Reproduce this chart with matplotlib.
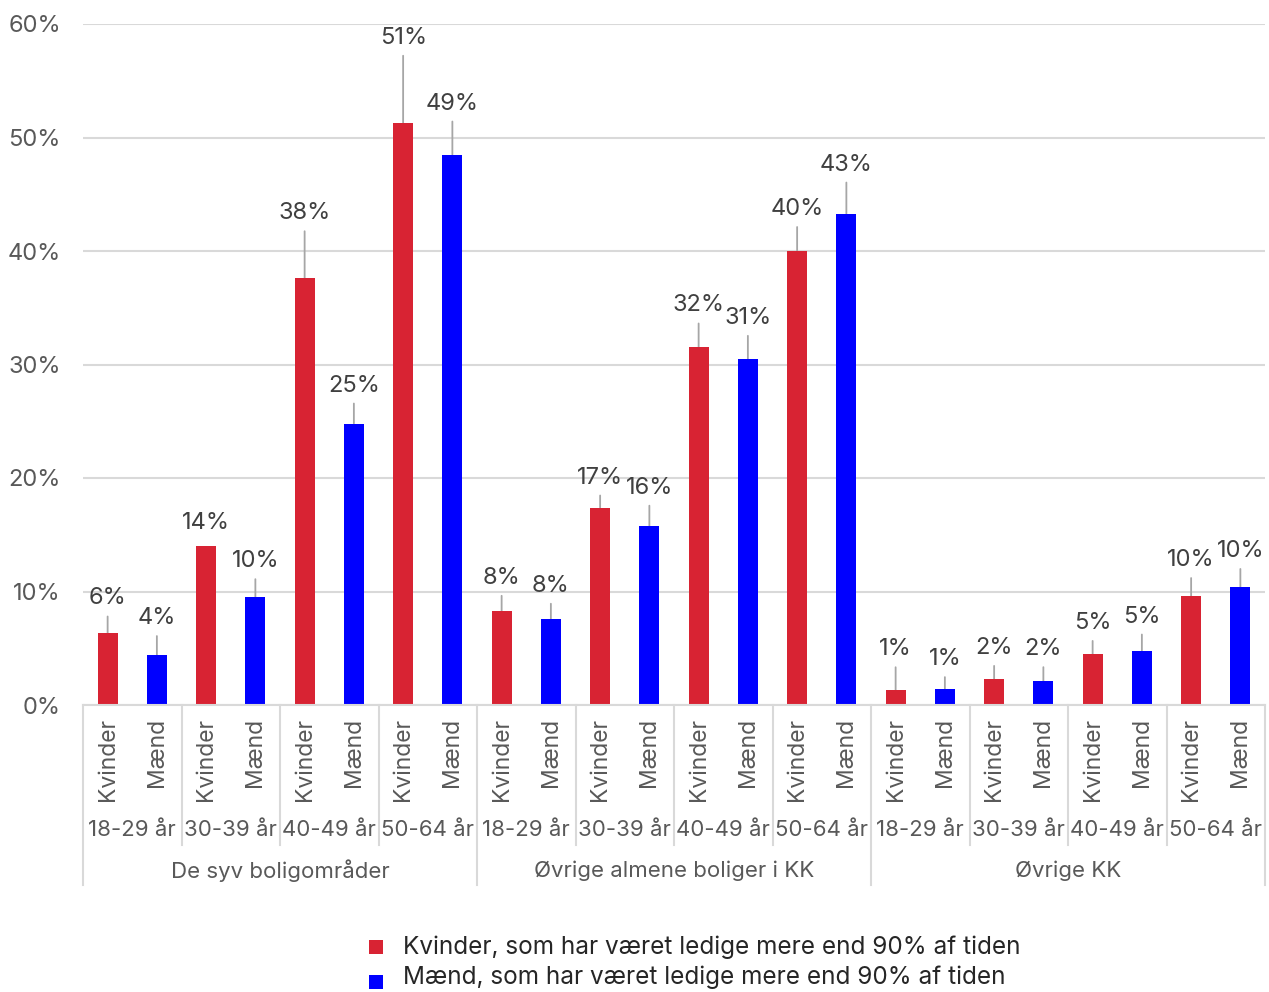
import matplotlib
matplotlib.use("Agg")
import matplotlib.pyplot as plt
import matplotlib.transforms as mtransforms
from matplotlib.lines import Line2D
import numpy as np

plt.rcParams['font.family'] = ['Inter', 'DejaVu Sans']

# ---- data ----
regions = ["De syv boligområder", "Øvrige almene boliger i KK", "Øvrige KK"]
age_groups = ["18-29 år", "30-39 år", "40-49 år", "50-64 år"]
genders = ["Kvinder", "Mænd"]

kvinder = [6.3, 14.0, 37.6, 51.3,   8.3, 17.4, 31.5, 40.0,   1.3, 2.3, 4.5, 9.6]
maend   = [4.4,  9.5, 24.8, 48.5,   7.6, 15.8, 30.5, 43.3,   1.4, 2.1, 4.8, 10.4]

legend_labels = ["Kvinder, som har været ledige mere end 90% af tiden",
                 "Mænd, som har været ledige mere end 90% af tiden"]

# label offsets above bar tops (pixels, styling only)
off_k = [35, 23, 65, 85,  33, 30, 42, 42,  41, 31, 31, 36]
off_m = [37, 36, 38, 51,  33, 38, 41, 49,  30, 32, 34, 36]

RED = "#D82333"
BLUE = "#0000FF"
TXT = "#595959"
LBL = "#404040"
GRID = "#D9D9D9"
FS = 17

W, H = 1269, 992
fig = plt.figure(figsize=(W / 100, H / 100), dpi=100)
ax = fig.add_axes([83 / W, 1 - 705 / H, (1265 - 83) / W, (705 - 24) / H])

n = len(kvinder) * 2
values = []
colors = []
offs = []
for k, m, ok, om in zip(kvinder, maend, off_k, off_m):
    values += [k, m]
    colors += [RED, BLUE]
    offs += [ok, om]
x = np.arange(n)
ax.bar(x, values, width=0.41, color=colors, zorder=3)

ax.set_xlim(-0.5, n - 0.5)
ax.set_ylim(0, 60)
ax.set_yticks(np.arange(0, 61, 10))
ax.set_yticklabels([f"{v}%" for v in range(0, 61, 10)], fontsize=FS, color=TXT)
ax.tick_params(axis='y', length=0, pad=16)
ax.tick_params(axis='x', length=0, labelbottom=False)
ax.yaxis.grid(True, color=GRID, linewidth=1.5, zorder=0)
for s in ["top", "right", "left"]:
    ax.spines[s].set_visible(False)
ax.spines["bottom"].set_color(GRID)
ax.spines["bottom"].set_linewidth(1.5)
ax.spines["bottom"].set_zorder(4)

# data labels with leader lines
for xi, v, off in zip(x, values, offs):
    ax.annotate(f"{int(v + 0.5)}%", xy=(xi, v), xytext=(0, off), textcoords="offset pixels",
                ha="center", va="center", fontsize=FS, color=LBL, zorder=5)
    if off > 28:
        ax.annotate("", xy=(xi, v), xytext=(0, off - 18), textcoords="offset pixels",
                    arrowprops=dict(arrowstyle="-", color="#A6A6A6", lw=1.3,
                                    shrinkA=0, shrinkB=0), zorder=2)

# multi-level category axis
trans = mtransforms.blended_transform_factory(ax.transData, ax.transAxes)
ah = 705 - 24
def ay(py):
    return (705 - py) / ah

for i, xi in enumerate(x):
    ax.text(xi, ay(718), genders[i % 2], rotation=90, ha="center", va="top",
            fontsize=16.5, color=TXT, transform=trans, clip_on=False)

na = len(age_groups)
for r, reg in enumerate(regions):
    for a, ag in enumerate(age_groups):
        c = (r * na + a) * 2 + 0.5
        ax.text(c, ay(830), ag, ha="center", va="center", fontsize=16, color=TXT,
                transform=trans, clip_on=False)
    rc = r * na * 2 + na - 0.5
    ax.text(rc, ay(871), reg, ha="center", va="center", fontsize=16, color=TXT,
            transform=trans, clip_on=False)

for b in range(len(regions) * na + 1):
    xb = b * 2 - 0.5
    if b % na == 0:
        y1 = ay(885)
    else:
        y1 = ay(845)
    ax.plot([xb, xb], [0, y1], color=GRID, lw=1.5, transform=trans, clip_on=False, zorder=1)

# legend
marker_y = [947, 982]
for i, (lab, col) in enumerate(zip(legend_labels, [RED, BLUE])):
    yy = 1 - (947 + 30 * i) / H
    fig.lines.append(Line2D([375.5 / W], [1 - marker_y[i] / H], marker="s", markersize=10,
                            markeredgewidth=0, color=col, linestyle="none",
                            transform=fig.transFigure))
    fig.text(403 / W, yy, lab, ha="left", va="center", fontsize=17.5, color="#262626")

fig.savefig("out.png", dpi=100, facecolor="white")
